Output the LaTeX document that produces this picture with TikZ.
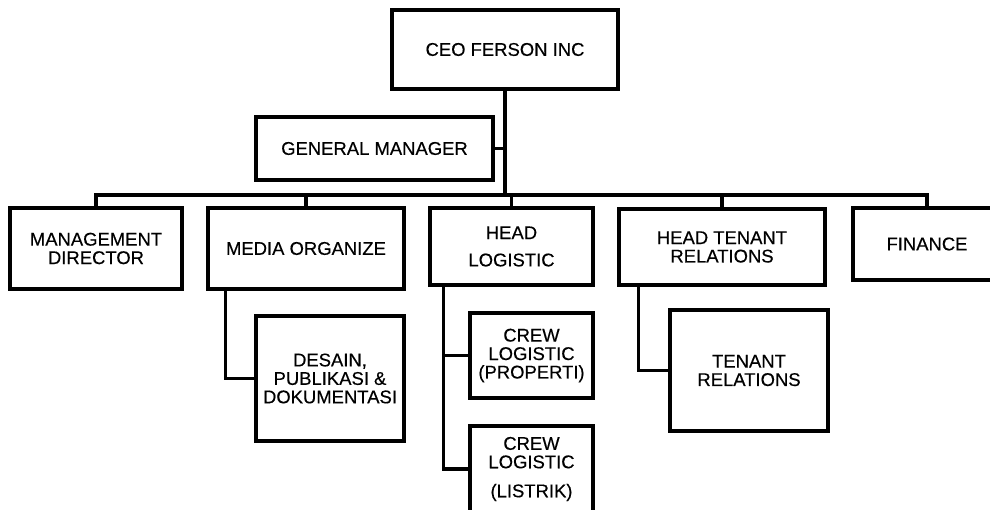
\documentclass[tikz,border=0pt]{standalone}
\usepackage{fontspec}
\setmainfont{Liberation Sans}
\newfontfamily\orgfont[FakeBold=0.35]{Liberation Sans}
\usepackage{tikz}
\usetikzlibrary{positioning}
\tikzset{
  unit/.style={rectangle, draw=black, line width=1.8pt, inner sep=0pt, align=center,
    font=\orgfont\fontsize{10.5}{10.5}\selectfont},
  link/.style={draw, line width=1.8pt},
}
\begin{document}
\begin{tikzpicture}[x=0.02cm, y=-0.02cm]
   \useasboundingbox (0,0) rectangle (990,510);
   \node[unit, minimum width=4.52cm, minimum height=1.58cm] (ceo) at (505,49.5) {CEO FERSON INC};
   \node[unit, minimum width=4.74cm, minimum height=1.26cm] (gm) at (374.5,148.5) {GENERAL MANAGER};
   \coordinate (bus) at (506,195);
   \node[unit, minimum width=3.44cm, minimum height=1.62cm] (md) at (96,248.5) {MANAGEMENT\\DIRECTOR};
   \node[unit, minimum width=3.92cm, minimum height=1.62cm] (mo) at (306,248.5) {MEDIA ORGANIZE};
   \node[unit, minimum width=3.26cm, minimum height=1.54cm] (hl) at (511.5,246.5) {HEAD\\[5pt]LOGISTIC};
   \node[unit, minimum width=4.12cm, minimum height=1.52cm] (htr) at (722,247) {HEAD TENANT\\RELATIONS};
   \node[unit, minimum width=2.96cm, minimum height=1.44cm] (fin) at (927,244) {FINANCE};
   \node[unit, minimum width=2.96cm, minimum height=2.50cm] (dpd) at (330,378.5) {DESAIN,\\PUBLIKASI \&\\DOKUMENTASI};
   \node[unit, minimum width=2.46cm, minimum height=1.70cm] (clp) at (531.5,355.5) {CREW\\LOGISTIC\\(PROPERTI)};
   \node[unit, minimum width=2.46cm, minimum height=1.72cm] (cll) at (531.5,469) {CREW\\LOGISTIC\\[6pt](LISTRIK)};
   \node[unit, minimum width=3.16cm, minimum height=2.42cm] (tr) at (749,370.5) {TENANT\\RELATIONS};

   \path[link] (ceo.south) -- (ceo.south |- bus);
   \path[link] (gm.east) -- (gm.east -| ceo.south);
   \path[link] (md.north) -- (md.north |- bus) -- (fin.north |- bus) -- (fin.north);
   \foreach \n in {mo,hl,htr}
     \path[link] (\n.north) -- (\n.north |- bus);
   \path[link] (mo.south west) ++(19,0) |- (dpd.west);
   \path[link] (hl.south west) ++(15,0) coordinate (hlx) |- (cll.west);
   \path[link] (clp.west) -- (clp.west -| hlx);
   \path[link] (htr.south west) ++(21,0) |- (tr.west);
\end{tikzpicture}
\end{document}
